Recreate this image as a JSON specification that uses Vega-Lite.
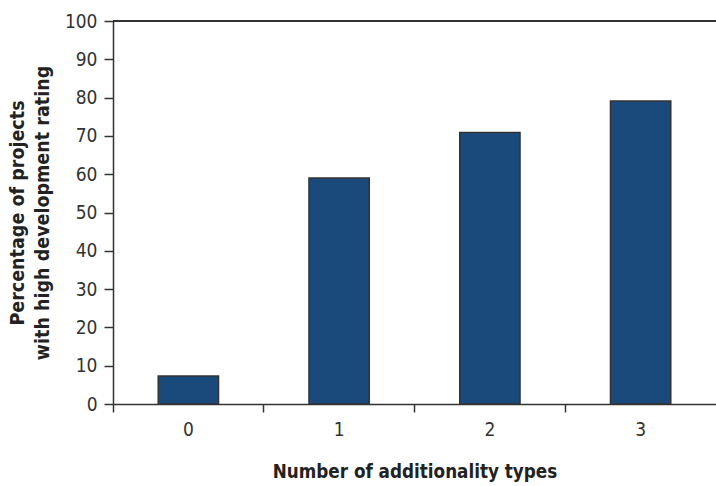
{
  "$schema": "https://vega.github.io/schema/vega-lite/v6.json",
  "width": 603,
  "height": 383,
  "autosize": {"type": "none"},
  "padding": {"left": 113, "top": 21, "right": 0, "bottom": 82},
  "background": "white",
  "config": {
    "view": {"stroke": null},
    "font": "DejaVu Sans Condensed",
    "axisY": {
      "values": [0, 10, 20, 30, 40, 50, 60, 70, 80, 90, 100],
      "labelOverlap": false,
      "labelFlush": false,
      "grid": false,
      "labelFont": "DejaVu Sans Condensed",
      "labelFontSize": 19,
      "labelColor": "#333333",
      "labelPadding": 7,
      "tickSize": 9,
      "tickWidth": 1.5,
      "tickColor": "#333333",
      "domainColor": "#333333",
      "domainWidth": 1.5,
      "titleFont": "DejaVu Sans Condensed",
      "titleFontSize": 19.5,
      "titleFontWeight": "bold",
      "titleColor": "#222222",
      "titleLineHeight": 25,
      "titlePadding": 12
    }
  },
  "data": {"values": [
    {"types": "0", "pct": 7.3},
    {"types": "1", "pct": 59.0},
    {"types": "2", "pct": 70.9},
    {"types": "3", "pct": 79.1}
  ]},
  "layer": [
    {
      "mark": {"type": "bar", "color": "#1a4a7b", "stroke": "#333333", "strokeWidth": 1.5, "width": {"band": 0.4}},
      "encoding": {
        "x": {
          "field": "types", "type": "ordinal",
          "scale": {"paddingInner": 0, "paddingOuter": 0},
          "axis": {
            "title": "Number of additionality types",
            "labelAngle": 0,
            "bandPosition": 0,
            "labelFont": "DejaVu Sans Condensed",
            "labelFontSize": 19,
            "labelColor": "#333333",
            "labelPadding": 8,
            "tickSize": 8,
            "tickWidth": 1.5,
            "tickColor": "#333333",
            "domainColor": "#333333",
            "domainWidth": 1.5,
            "titleFont": "DejaVu Sans Condensed",
            "titleFontSize": 18.7,
            "titleFontWeight": "bold",
            "titleColor": "#222222",
            "titlePadding": 23
          }
        },
        "y": {
          "field": "pct", "type": "quantitative",
          "scale": {"domain": [0, 100]},
          "axis": {"title": ["Percentage of projects", "with high development rating"]}
        }
      }
    },
    {
      "mark": {"type": "rule", "color": "#333333", "strokeWidth": 1.5},
      "encoding": {"y": {"datum": 100, "axis": {"title": ["Percentage of projects", "with high development rating"]}}}
    }
  ]
}
